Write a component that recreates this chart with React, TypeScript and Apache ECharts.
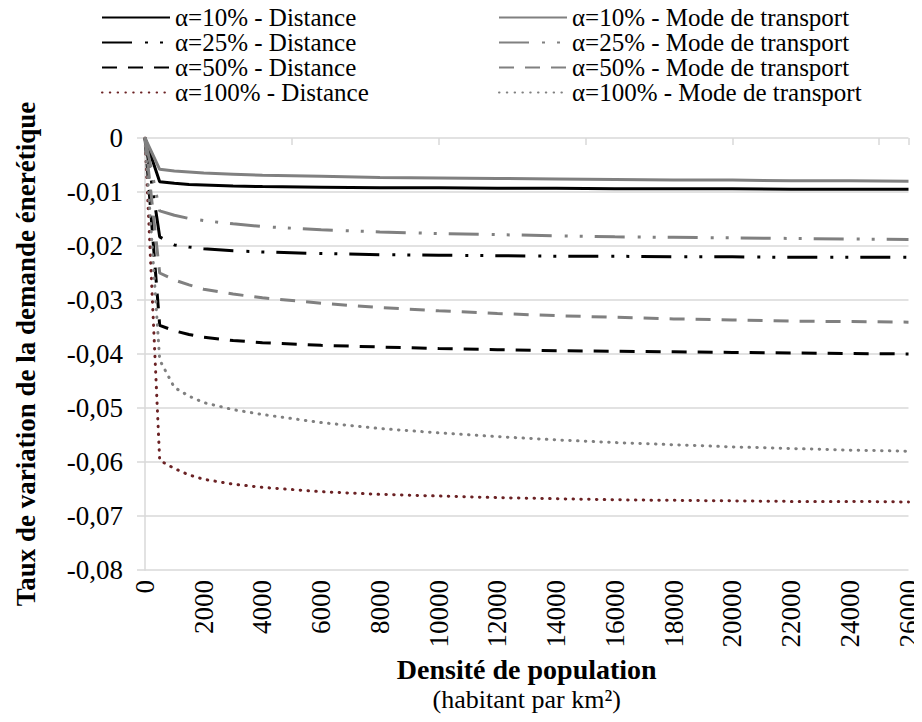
import React, { useEffect, useRef } from "react";
import * as echarts from "echarts";

const densities = [0, 500, 1000, 1500, 2000, 3000, 4000, 6000, 8000, 10000, 12000, 14000, 16000, 18000, 20000, 22000, 24000, 26000];

const dist10 = [0, -0.0081, -0.0084, -0.0086, -0.0087, -0.0089, -0.009, -0.0091, -0.0092, -0.0092, -0.0093, -0.0093, -0.0094, -0.0094, -0.0094, -0.0095, -0.0095, -0.0095];
const dist25 = [0, -0.0183, -0.0198, -0.0202, -0.0205, -0.0209, -0.0211, -0.0214, -0.0216, -0.0217, -0.0218, -0.0219, -0.0219, -0.022, -0.022, -0.0221, -0.0221, -0.0221];
const dist50 = [0, -0.0347, -0.0357, -0.0364, -0.0369, -0.0375, -0.0379, -0.0384, -0.0387, -0.039, -0.0392, -0.0394, -0.0395, -0.0396, -0.0397, -0.0398, -0.0399, -0.04];
const dist100 = [0, -0.0597, -0.0612, -0.0624, -0.0632, -0.0641, -0.0647, -0.0655, -0.066, -0.0663, -0.0666, -0.0668, -0.067, -0.0671, -0.0672, -0.0673, -0.0673, -0.0674];

const mode10 = [0, -0.0058, -0.0061, -0.0063, -0.0065, -0.0067, -0.0069, -0.0071, -0.0073, -0.0074, -0.0075, -0.0076, -0.0077, -0.0078, -0.0078, -0.0079, -0.0079, -0.008];
const mode25 = [0, -0.0135, -0.0143, -0.0149, -0.0153, -0.0159, -0.0164, -0.017, -0.0174, -0.0177, -0.0179, -0.0181, -0.0183, -0.0184, -0.0185, -0.0186, -0.0187, -0.0188];
const mode50 = [0, -0.025, -0.0263, -0.0272, -0.028, -0.0289, -0.0296, -0.0306, -0.0314, -0.032, -0.0325, -0.0329, -0.0332, -0.0335, -0.0337, -0.0339, -0.034, -0.0341];
const mode100 = [0, -0.0411, -0.0462, -0.0478, -0.049, -0.0503, -0.0512, -0.0527, -0.0538, -0.0546, -0.0553, -0.0559, -0.0564, -0.0568, -0.0572, -0.0575, -0.0578, -0.058];

const distNames = ["α=10% - Distance", "α=25% - Distance", "α=50% - Distance", "α=100% - Distance"];
const modeNames = ["α=10% - Mode de transport", "α=25% - Mode de transport", "α=50% - Mode de transport", "α=100% - Mode de transport"];

const FONT = "Liberation Serif";
const BLACK = "#000000";
const GREY = "#808080";
const DARKRED = "#6b2224";

const dashStyles: any[] = ["solid", [30, 13, 3, 12, 3, 12], [15, 11], [0.5, 7.3]];

function mk(name: string, vals: number[], color: string, idx: number) {
  const dotted = idx === 3;
  return {
    name,
    type: "line",
    data: densities.map((d, i) => [d, vals[i]]),
    showSymbol: false,
    symbol: "none",
    lineStyle: {
      color,
      width: 3,
      type: dashStyles[idx],
      cap: dotted ? "round" : "butt",
    },
    itemStyle: { color },
    z: 3,
  };
}

export default function App() {
  const ref = useRef<HTMLDivElement>(null);
  useEffect(() => {
    if (!ref.current) return;
    const chart = echarts.init(ref.current, undefined, { renderer: "svg" });
    const distVals = [dist10, dist25, dist50, dist100];
    const modeVals = [mode10, mode25, mode50, mode100];
    const series: any[] = [];
    distNames.forEach((n, i) => series.push(mk(n, distVals[i], i === 3 ? DARKRED : BLACK, i)));
    modeNames.forEach((n, i) => series.push(mk(n, modeVals[i], GREY, i)));

    const legendCommon = {
      orient: "vertical",
      top: 0,
      itemWidth: 68,
      itemHeight: 14,
      itemGap: 0,
      itemStyle: { opacity: 0 },
      textStyle: { fontFamily: FONT, fontSize: 25, color: "#000", lineHeight: 25 },
    };

    chart.setOption({
      animation: false,
      backgroundColor: "#ffffff",
      grid: { left: 145, right: 13, top: 138, bottom: 152, containLabel: false },
      legend: [
        { ...legendCommon, left: 96, data: distNames },
        { ...legendCommon, left: 493, data: modeNames },
      ],
      xAxis: [
        {
          type: "value",
          min: 0,
          max: 26000,
          interval: 2000,
          position: "bottom",
          axisLine: { show: false },
          axisTick: { show: false },
          splitLine: { show: false },
          axisLabel: {
            rotate: 90,
            margin: 10,
            fontFamily: FONT,
            fontSize: 27,
            color: "#000",
            formatter: (v: number) => String(v),
          },
          name: "{a|Densité de population}\n{b|(habitant par km²)}",
          nameLocation: "middle",
          nameGap: 84,
          nameTextStyle: {
            rich: {
              a: { fontFamily: FONT, fontSize: 28, fontWeight: "bold", color: "#000", lineHeight: 30 },
              b: { fontFamily: FONT, fontSize: 26, color: "#000", lineHeight: 30 },
            },
          },
        },
        {
          type: "value",
          min: 0,
          max: 26000,
          interval: 5000,
          position: "top",
          axisLine: { show: false },
          axisTick: { show: true, inside: true, length: 7, lineStyle: { color: "#d9d9d9", width: 1.5 } },
          axisLabel: { show: false },
          splitLine: { show: false },
        },
      ],
      yAxis: {
        type: "value",
        min: -0.08,
        max: 0,
        interval: 0.01,
        axisLine: { show: true, lineStyle: { color: "#d9d9d9", width: 1.5 } },
        axisTick: { show: true, length: 8, lineStyle: { color: "#d9d9d9", width: 1.5 } },
        splitLine: { show: true, lineStyle: { color: "#d9d9d9", width: 1.5 } },
        axisLabel: {
          margin: 22,
          fontFamily: FONT,
          fontSize: 27,
          color: "#000",
          formatter: (v: number) => {
            const r = Math.round(v * 100) / 100;
            if (r === 0) return "0";
            return r.toFixed(2).replace(".", ",");
          },
        },
        name: "Taux de variation de la demande énerétique",
        nameLocation: "middle",
        nameRotate: 90,
        nameGap: 106,
        nameTextStyle: { fontFamily: FONT, fontSize: 27, fontWeight: "bold", color: "#000" },
      },
      series,
    });
    return () => chart.dispose();
  }, []);
  return <div ref={ref} style={{ width: 922, height: 722, margin: -8 }} />;
}
